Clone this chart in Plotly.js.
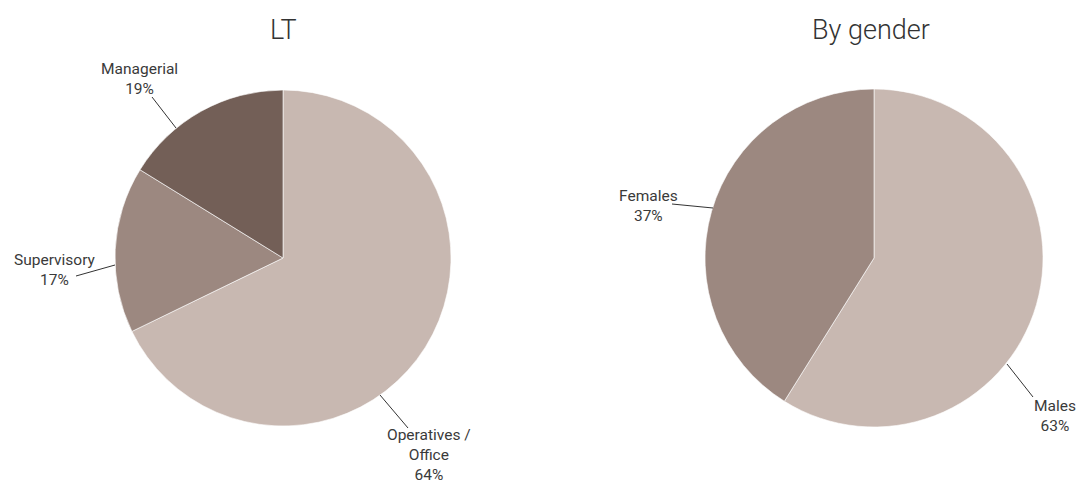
<!DOCTYPE html>
<html>
<head>
<meta charset="utf-8">
<script src="https://cdn.plot.ly/plotly-3.0.1.min.js"></script>
<style>html,body{margin:0;padding:0;background:#fff;}#chart{width:1079px;height:484px;}</style>
</head>
<body>
<div id="chart"></div>
<script>
// LT pie
const ltCategories = ["Operatives / Office", "Supervisory", "Managerial"];
const ltValues = [67.8, 16.0, 16.2];           // slice sizes
const ltLabelPct = ["64%", "17%", "19%"];      // printed percentages
const ltColors = ["#C8B8B1", "#9C8880", "#735F57"];

// Gender pie
const genderCategories = ["Males", "Females"];
const genderValues = [58.9, 41.1];             // slice sizes
const genderLabelPct = ["63%", "37%"];         // printed percentages
const genderColors = ["#C8B8B1", "#9C8880"];

const titles = ["LT", "By gender"];

const W = 1079, H = 484;
const px = x => x / W;
const py = y => 1 - y / H;

const font = "Roboto, 'Open Sans', sans-serif";
const textColor = "#3a3a3a";

const traces = [
  {
    type: "pie",
    labels: ltCategories,
    values: ltValues,
    sort: false,
    direction: "clockwise",
    rotation: 0,
    textinfo: "none",
    hoverinfo: "label+percent",
    marker: {colors: ltColors, line: {color: "#ffffff", width: 0.6}},
    domain: {x: [px(115), px(451)], y: [py(426), py(90)]},
    showlegend: false
  },
  {
    type: "pie",
    labels: genderCategories,
    values: genderValues,
    sort: false,
    direction: "clockwise",
    rotation: 0,
    textinfo: "none",
    hoverinfo: "label+percent",
    marker: {colors: genderColors, line: {color: "#ffffff", width: 0.6}},
    domain: {x: [px(705), px(1043)], y: [py(427), py(89)]},
    showlegend: false
  }
];

function labelText(name, pct) {
  const parts = name === "Operatives / Office" ? ["Operatives /", "Office"] : [name];
  return parts.concat([pct]).join("<br>");
}

// label placement (text block centre) and leader line (pie edge -> text)
const ltLabelPos = [
  {text: [429, 455], line: [[380, 395], [408, 428]]},
  {text: [55, 270],  line: [[115, 265], [76, 276]]},
  {text: [139, 79],  line: [[176, 128], [152, 97]]}
];
const genderLabelPos = [
  {text: [1055, 416], line: [[1007, 364], [1033, 397]]},
  {text: [648, 206],  line: [[713, 208], [672, 204]]}
];

const annotations = [];
const shapes = [];
function addLabel(name, pct, p) {
  annotations.push({
    xref: "paper", yref: "paper", x: px(p.text[0]), y: py(p.text[1]),
    xanchor: "center", yanchor: "middle", showarrow: false,
    text: labelText(name, pct), align: "center",
    font: {family: font, size: 15.5, color: textColor}
  });
  shapes.push({
    type: "line", xref: "paper", yref: "paper",
    x0: px(p.line[0][0]), y0: py(p.line[0][1]),
    x1: px(p.line[1][0]), y1: py(p.line[1][1]),
    line: {color: "#333333", width: 1}
  });
}
ltCategories.forEach((c, i) => addLabel(c, ltLabelPct[i], ltLabelPos[i]));
genderCategories.forEach((c, i) => addLabel(c, genderLabelPct[i], genderLabelPos[i]));

// titles
[[titles[0], 283], [titles[1], 871]].forEach(([t, x]) => {
  annotations.push({
    xref: "paper", yref: "paper", x: px(x), y: py(30), xanchor: "center", yanchor: "middle",
    showarrow: false, text: t,
    font: {family: font, size: 27, color: "#333", weight: 300}
  });
});

const layout = {
  width: W, height: H,
  margin: {l: 0, r: 0, t: 0, b: 0},
  paper_bgcolor: "#ffffff",
  plot_bgcolor: "#ffffff",
  showlegend: false,
  annotations: annotations,
  shapes: shapes
};

Plotly.newPlot("chart", traces, layout, {displayModeBar: false, staticPlot: true});
</script>
</body>
</html>
